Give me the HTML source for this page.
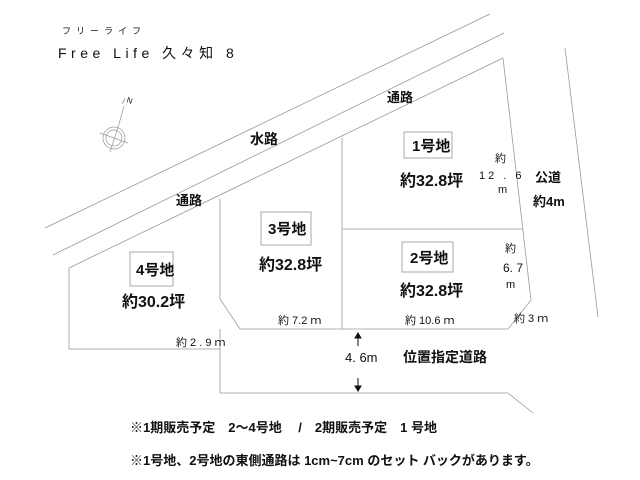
<!DOCTYPE html>
<html><head><meta charset="utf-8"><style>
html,body{margin:0;padding:0;background:#fff;}
svg{display:block;}
text{font-family:"Liberation Sans","Noto Sans CJK JP",sans-serif;fill:#111;}
.b{font-weight:bold;}
</style></head><body>
<svg width="640" height="480" viewBox="0 0 640 480" xmlns="http://www.w3.org/2000/svg">
<g stroke="#999" stroke-width="0.8" fill="none">
<line x1="490" y1="14" x2="45" y2="228"/>
<line x1="504" y1="33" x2="53" y2="255"/>
<polyline points="503,58 69,268 69,349 220,349"/>
<polyline points="503,58 531,300 508,329 240,329 220,299 220,199"/>
<polyline points="220,329 220,393 508,393 533,413"/>
<line x1="342" y1="138" x2="342" y2="329"/>
<line x1="565" y1="48" x2="598" y2="317"/>
</g>
<line x1="342" y1="229" x2="524" y2="229" stroke="#ccc" stroke-width="1.5"/>
<g stroke="#999" stroke-width="0.7" fill="none">
<circle cx="114" cy="138" r="11"/><circle cx="114" cy="138" r="8"/>
<line x1="100" y1="133" x2="128" y2="143"/><line x1="110" y1="152" x2="119" y2="124"/>
<line x1="119" y1="124" x2="124" y2="106"/>
<polyline points="122,104 125,98 123,103"/>
</g>
<text x="126" y="102" font-size="8" fill="#888" transform="rotate(20 126 102)">N</text>
<text x="62" y="34" font-size="9" letter-spacing="5">フリーライフ</text>
<text x="58" y="58" font-size="14" letter-spacing="4.5">Free Life  久々知 8</text>
<g class="b" font-size="13">
<text x="387" y="102">通路</text>
<text x="250" y="144" font-size="14">水路</text>
<text x="176" y="205">通路</text>
<text x="535" y="182">公道</text>
<text x="533" y="206">約4m</text>
<text x="403" y="362" font-size="14">位置指定道路</text>
</g>
<g fill="none" stroke="#aaa" stroke-width="1">
<rect x="404" y="132" width="48" height="26"/>
<rect x="261" y="212" width="50" height="33"/>
<rect x="130" y="252" width="43" height="34"/>
<rect x="402" y="242" width="51" height="30"/>
</g>
<g class="b" font-size="15">
<text x="412" y="151">1号地</text>
<text x="268" y="234">3号地</text>
<text x="136" y="275">4号地</text>
<text x="410" y="263">2号地</text>
</g>
<g class="b" font-size="16">
<text x="400" y="186">約32.8坪</text>
<text x="259" y="270">約32.8坪</text>
<text x="400" y="296">約32.8坪</text>
<text x="122" y="307">約30.2坪</text>
</g>
<g font-size="11">
<text x="495" y="162">約</text>
<text x="479" y="179" letter-spacing="3">12 . 6</text>
<text x="498" y="193">m</text>
<text x="505" y="252">約</text>
<text x="503" y="272" font-size="12">6. 7</text>
<text x="506" y="288">m</text>
<text x="278" y="324">約 7.2 ｍ</text>
<text x="405" y="324">約 10.6 ｍ</text>
<text x="514" y="322">約 3 ｍ</text>
<text x="176" y="346">約 2 . 9 ｍ</text>
<text x="345" y="362" font-size="13">4. 6m</text>
</g>
<g stroke="#111" stroke-width="1" fill="#111">
<line x1="358" y1="336" x2="358" y2="346"/><polygon points="355,338 358,333 361,338"/>
<line x1="358" y1="378" x2="358" y2="388"/><polygon points="355,386 358,391 361,386"/>
</g>
<g class="b" font-size="13">
<text x="130" y="432">※1期販売予定　2～4号地　 /　2期販売予定　1 号地</text>
<text x="130" y="465">※1号地、2号地の東側通路は 1cm~7cm のセット バックがあります。</text>
</g>
</svg>
</body></html>
